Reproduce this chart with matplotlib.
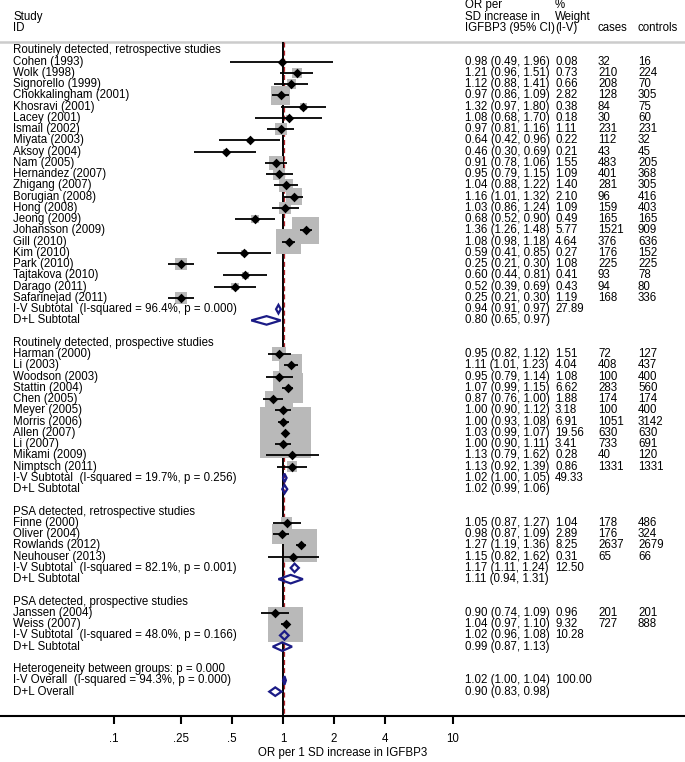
import numpy as np
import matplotlib
matplotlib.use("Agg")
import matplotlib.pyplot as plt
from matplotlib.patches import Polygon
from matplotlib.transforms import blended_transform_factory

plt.rcParams['font.family'] = ['Liberation Sans', 'DejaVu Sans']

# --- data ---
group_titles = ["Routinely detected, retrospective studies",
                "Routinely detected, prospective studies",
                "PSA detected, retrospective studies",
                "PSA detected, prospective studies"]

study_group = [0] * 22 + [1] * 11 + [2] * 4 + [3] * 2
study_names = ["Cohen (1993)", "Wolk (1998)", "Signorello (1999)", "Chokkalingham (2001)",
               "Khosravi (2001)", "Lacey (2001)", "Ismail (2002)", "Miyata (2003)",
               "Aksoy (2004)", "Nam (2005)", "Hernandez (2007)", "Zhigang (2007)",
               "Borugian (2008)", "Hong (2008)", "Jeong (2009)", "Johansson (2009)",
               "Gill (2010)", "Kim (2010)", "Park (2010)", "Tajtakova (2010)",
               "Darago (2011)", "Safarinejad (2011)",
               "Harman (2000)", "Li (2003)", "Woodson (2003)", "Stattin (2004)",
               "Chen (2005)", "Meyer (2005)", "Morris (2006)", "Allen (2007)",
               "Li (2007)", "Mikami (2009)", "Nimptsch (2011)",
               "Finne (2000)", "Oliver (2004)", "Rowlands (2012)", "Neuhouser (2013)",
               "Janssen (2004)", "Weiss (2007)"]
or_est = [0.98, 1.21, 1.12, 0.97, 1.32, 1.08, 0.97, 0.64, 0.46, 0.91, 0.95, 1.04,
          1.16, 1.03, 0.68, 1.36, 1.08, 0.59, 0.25, 0.60, 0.52, 0.25,
          0.95, 1.11, 0.95, 1.07, 0.87, 1.00, 1.00, 1.03, 1.00, 1.13, 1.13,
          1.05, 0.98, 1.27, 1.15,
          0.90, 1.04]
ci_low = [0.49, 0.96, 0.88, 0.86, 0.97, 0.68, 0.81, 0.42, 0.30, 0.78, 0.79, 0.88,
          1.01, 0.86, 0.52, 1.26, 0.98, 0.41, 0.21, 0.44, 0.39, 0.21,
          0.82, 1.01, 0.79, 0.99, 0.76, 0.90, 0.93, 0.99, 0.90, 0.79, 0.92,
          0.87, 0.87, 1.19, 0.82,
          0.74, 0.97]
ci_high = [1.96, 1.51, 1.41, 1.09, 1.80, 1.70, 1.16, 0.96, 0.69, 1.06, 1.15, 1.22,
           1.32, 1.24, 0.90, 1.48, 1.18, 0.85, 0.30, 0.81, 0.69, 0.30,
           1.12, 1.23, 1.14, 1.15, 1.00, 1.12, 1.08, 1.07, 1.11, 1.62, 1.39,
           1.27, 1.09, 1.36, 1.62,
           1.09, 1.10]
weights = [0.08, 0.73, 0.66, 2.82, 0.38, 0.18, 1.11, 0.22, 0.21, 1.55, 1.09, 1.40,
           2.10, 1.09, 0.49, 5.77, 4.64, 0.27, 1.08, 0.41, 0.43, 1.19,
           1.51, 4.04, 1.08, 6.62, 1.88, 3.18, 6.91, 19.56, 3.41, 0.28, 0.86,
           1.04, 2.89, 8.25, 0.31,
           0.96, 9.32]
cases = [32, 210, 208, 128, 84, 30, 231, 112, 43, 483, 401, 281, 96, 159, 165, 1521,
         376, 176, 225, 93, 94, 168,
         72, 408, 100, 283, 174, 100, 1051, 630, 733, 40, 1331,
         178, 176, 2637, 65,
         201, 727]
controls = [16, 224, 70, 305, 75, 60, 231, 32, 45, 205, 368, 305, 416, 403, 165, 909,
            636, 152, 225, 78, 80, 336,
            127, 437, 400, 560, 174, 400, 3142, 630, 691, 120, 1331,
            486, 324, 2679, 66,
            201, 888]

# subtotals per group: I-V and D+L
iv_isq = ["96.4%", "19.7%", "82.1%", "48.0%"]
iv_p = ["0.000", "0.256", "0.001", "0.166"]
iv_est = [0.94, 1.02, 1.17, 1.02]
iv_low = [0.91, 1.00, 1.11, 0.96]
iv_high = [0.97, 1.05, 1.24, 1.08]
iv_weight = [27.89, 49.33, 12.50, 10.28]
dl_est = [0.80, 1.02, 1.11, 0.99]
dl_low = [0.65, 0.99, 0.94, 0.87]
dl_high = [0.97, 1.06, 1.31, 1.13]

het_between_p = "0.000"
overall_isq, overall_p = "94.3%", "0.000"
overall_iv = (1.02, 1.00, 1.04)
overall_dl = (0.90, 0.83, 0.98)

xticks = [0.1, 0.25, 0.5, 1, 2, 4, 10]
xticklabels = [".1", ".25", ".5", "1", "2", "4", "10"]

# --- layout in pixels ---
W, H = 685, 762
X1 = 283.0        # pixel of OR = 1
DEC = 169.5       # pixels per decade
ROW0, ROWH = 50.4, 11.25
AXIS_Y = 716
FS = 8.3
NAVY = "#1b1b86"
BOXGRAY = "#b9b9b9"

fig = plt.figure(figsize=(W / 100, H / 100), dpi=100)
ax = fig.add_axes([0, (H - AXIS_Y) / H, 1, AXIS_Y / H])
ax.set_xscale('log')
ax.set_xlim(10 ** (-X1 / DEC), 10 ** ((W - X1) / DEC))
ax.set_ylim((AXIS_Y - ROW0) / ROWH, -ROW0 / ROWH)

tr = blended_transform_factory(ax.transAxes, ax.transData)
col_label, col_ci, col_w, col_cases, col_ctrl = 13 / W, 465 / W, 555 / W, 598 / W, 638 / W


def txt(xf, row, s):
    ax.text(xf, row, s, transform=tr, fontsize=FS, va='center', ha='left')


def ci_str(e, lo, hi):
    return "%.2f (%.2f, %.2f)" % (e, lo, hi)


def diamond(e, lo, hi, row, h=0.38):
    # outline only, like Stata's metan diamonds
    ax.add_patch(Polygon([(lo, row), (e, row - h), (hi, row), (e, row + h)],
                         closed=True, fill=False, edgecolor=NAVY,
                         linewidth=1.6, zorder=4))


# header
txt(col_label, -3, "Study")
txt(col_label, -2, "ID")
txt(col_ci, -4, "OR per")
txt(col_ci, -3, "SD increase in")
txt(col_ci, -2, "IGFBP3 (95% CI)")
txt(col_w, -4, "%")
txt(col_w, -3, "Weight")
txt(col_w, -2, "(I-V)")
txt(col_cases, -2, "cases")
txt(col_ctrl, -2, "controls")
ax.axhline(-0.75, color='#cccccc', lw=1.8, zorder=1)

row = 0
study_rows = []
for g, title in enumerate(group_titles):
    txt(col_label, row, title)
    row += 1
    for i, name in enumerate(study_names):
        if study_group[i] != g:
            continue
        txt(col_label, row, name)
        txt(col_ci, row, ci_str(or_est[i], ci_low[i], ci_high[i]))
        txt(col_w, row, "%.2f" % weights[i])
        txt(col_cases, row, str(cases[i]))
        txt(col_ctrl, row, str(controls[i]))
        study_rows.append(row)
        row += 1
    txt(col_label, row, "I-V Subtotal  (I-squared = %s, p = %s)" % (iv_isq[g], iv_p[g]))
    txt(col_ci, row, ci_str(iv_est[g], iv_low[g], iv_high[g]))
    txt(col_w, row, "%.2f" % iv_weight[g])
    diamond(iv_est[g], iv_low[g], iv_high[g], row)
    row += 1
    txt(col_label, row, "D+L Subtotal")
    txt(col_ci, row, ci_str(dl_est[g], dl_low[g], dl_high[g]))
    diamond(dl_est[g], dl_low[g], dl_high[g], row)
    row += 2

txt(col_label, row, "Heterogeneity between groups: p = %s" % het_between_p)
row += 1
txt(col_label, row, "I-V Overall  (I-squared = %s, p = %s)" % (overall_isq, overall_p))
txt(col_ci, row, ci_str(*overall_iv) + "  100.00")
diamond(*overall_iv, row)
row += 1
txt(col_label, row, "D+L Overall")
txt(col_ci, row, ci_str(*overall_dl))
diamond(*overall_dl, row)

study_rows = np.array(study_rows)
w = np.array(weights)
side_pt = 11.5 * np.sqrt(w) * 0.72
ax.scatter(or_est, study_rows, s=side_pt ** 2, marker='s', color=BOXGRAY,
           linewidths=0, zorder=2)
ax.hlines(study_rows, ci_low, ci_high, color='black', lw=1.3, zorder=3)
ax.scatter(or_est, study_rows, s=24, marker='D', color='black', linewidths=0, zorder=3)

# reference lines (drawn under the weight boxes)
ymax = (AXIS_Y - ROW0) / ROWH
ax.vlines(1, -0.75, ymax, color='black', lw=1.4, zorder=1.2)
ax.vlines(overall_iv[0], -0.75, ymax, color='#b0242a', lw=0.9,
          linestyles=(0, (4, 2.5)), zorder=1.5)

# axis
for s in ['top', 'left', 'right']:
    ax.spines[s].set_visible(False)
ax.spines['bottom'].set_linewidth(1.5)
ax.set_yticks([])
ax.xaxis.set_minor_locator(matplotlib.ticker.NullLocator())
ax.set_xticks(xticks)
ax.set_xticklabels(xticklabels)
ax.tick_params(axis='x', direction='out', length=6, width=1.5, pad=6, labelsize=FS)
ax.set_xlabel("OR per 1 SD increase in IGFBP3", fontsize=FS, labelpad=2)

fig.savefig("out.png", dpi=100)
